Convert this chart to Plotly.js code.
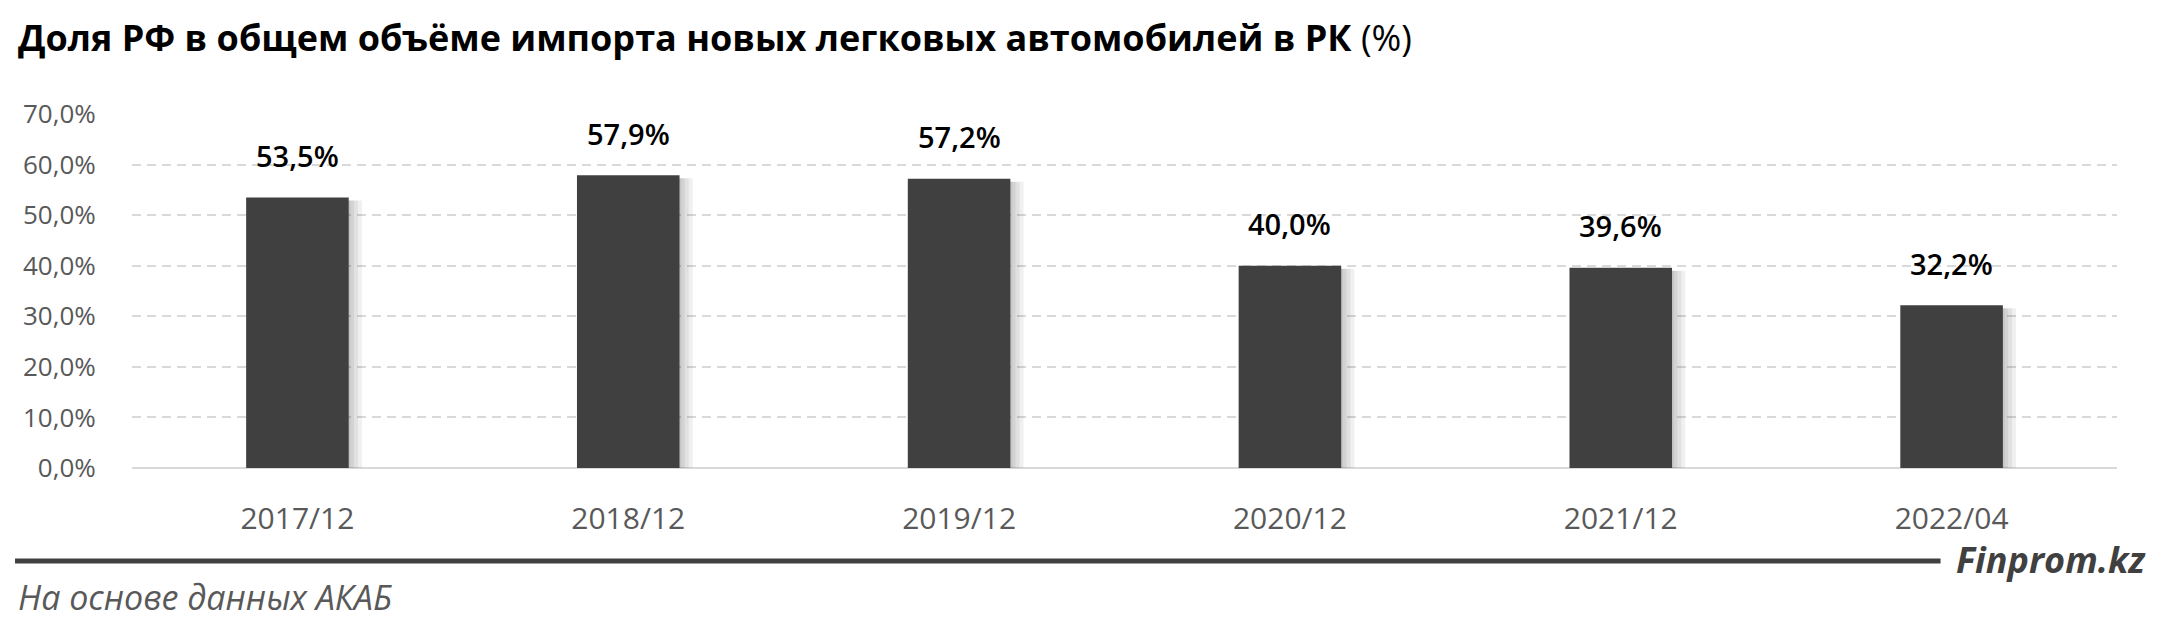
<!DOCTYPE html>
<html>
<head>
<meta charset="utf-8">
<script src="https://cdn.plot.ly/plotly-3.0.1.min.js"></script>
<style>
html,body{margin:0;padding:0;background:#fff;}
#chart{width:2160px;height:626px;}
</style>
</head>
<body>
<div id="chart"></div>
<script>
const categories = ["2017/12", "2018/12", "2019/12", "2020/12", "2021/12", "2022/04"];
const shareRF = [53.5, 57.9, 57.2, 40.0, 39.6, 32.2];
const yTickValues = [0, 10, 20, 30, 40, 50, 60, 70];
const yTickLabels = ["0,0%", "10,0%", "20,0%", "30,0%", "40,0%", "50,0%", "60,0%", "70,0%"];
const titleText = "<b>Доля РФ в общем объёме импорта новых легковых автомобилей в РК</b> (%)";
const sourceText = "На основе данных АКАБ";
const brandText = "Finprom.kz";

const FONT = "Open Sans, sans-serif";
const BAR_W = 0.31;

const traces = [];
// soft shadow layers to the right of each bar
[0.04, 0.028, 0.016, 0.006].forEach(d => {
  traces.push({
    type: "bar", x: categories, y: shareRF.map(v => v - 0.6),
    width: BAR_W, offset: -BAR_W / 2 + d,
    marker: {color: "rgba(0,0,0,0.06)", line: {width: 0}},
    hoverinfo: "skip", showlegend: false
  });
});
traces.push({
  type: "bar", x: categories, y: shareRF,
  width: BAR_W, offset: -BAR_W / 2,
  marker: {color: "#404040", line: {width: 0}},
  showlegend: false
});

const labelAnnotations = categories.map((c, i) => ({
  x: c, y: shareRF[i], xref: "x", yref: "y",
  text: shareRF[i].toFixed(1).replace(".", ",") + "%",
  showarrow: false, yanchor: "middle", yshift: 42,
  font: {family: FONT, size: 29, color: "#000", weight: 600}
}));

// plot area in pixels: left 132, right 2117.5, top 114, bottom 468
const PL = 132, PR = 2117.5, PT = 114, PB = 468;
const px2x = p => (p - PL) / (PR - PL);
const px2y = p => (PB - p) / (PB - PT);

const layout = {
  width: 2160, height: 626,
  margin: {l: PL, r: 2160 - PR, t: PT, b: 626 - PB, pad: 0},
  paper_bgcolor: "#fff", plot_bgcolor: "#fff",
  barmode: "overlay",
  showlegend: false,
  title: {
    text: titleText, x: 18 / 2160, xanchor: "left", xref: "container",
    y: 1 - 38 / 626, yanchor: "middle", yref: "container",
    font: {family: FONT, size: 36, color: "#000"}
  },
  xaxis: {
    type: "category", range: [-0.5, 5.5],
    showgrid: false, zeroline: false, showline: false,
    ticks: "outside", ticklen: 24, tickcolor: "rgba(0,0,0,0)",
    tickfont: {family: FONT, size: 30, color: "#595959"}
  },
  yaxis: {
    range: [0, 70], tickvals: yTickValues, ticktext: yTickLabels,
    showgrid: true, gridcolor: "#d9d9d9", gridwidth: 2, griddash: "9px,6px",
    zeroline: true, zerolinecolor: "#d9d9d9", zerolinewidth: 2,
    showline: false,
    ticks: "outside", ticklen: 30, tickcolor: "rgba(0,0,0,0)",
    tickfont: {family: FONT, size: 26, color: "#595959"}
  },
  shapes: [{
    type: "line", xref: "paper", yref: "paper",
    x0: px2x(15), x1: px2x(1941), y0: px2y(561), y1: px2y(561),
    line: {color: "#404040", width: 5}
  }],
  annotations: labelAnnotations.concat([
    {
      xref: "paper", yref: "paper", x: px2x(2148), y: px2y(559),
      xanchor: "right", yanchor: "middle", showarrow: false,
      text: "<b><i>" + brandText + "</i></b>",
      font: {family: FONT, size: 36, color: "#404040"}
    },
    {
      xref: "paper", yref: "paper", x: px2x(16), y: px2y(597),
      xanchor: "left", yanchor: "middle", showarrow: false,
      text: "<i>" + sourceText + "</i>",
      font: {family: FONT, size: 34, color: "#595959"}
    }
  ])
};

Plotly.newPlot("chart", traces, layout, {displayModeBar: false, staticPlot: true});
</script>
</body>
</html>
